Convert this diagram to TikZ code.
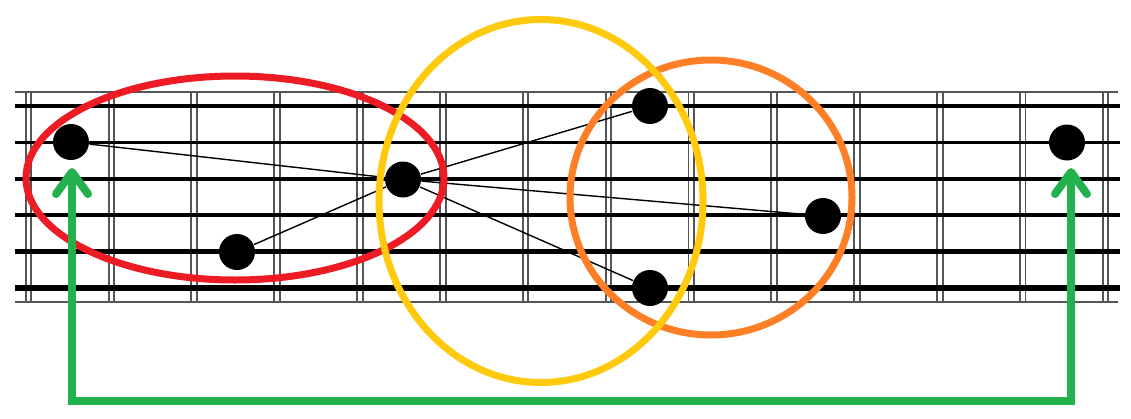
\documentclass[tikz,border=0pt]{standalone}
\usetikzlibrary{arrows.meta}
\definecolor{pred}{HTML}{ED1C24}
\definecolor{pyellow}{HTML}{FFC90E}
\definecolor{porange}{HTML}{FF7F27}
\definecolor{pgreen}{HTML}{22B14C}
\definecolor{fretgray}{HTML}{555555}

\begin{document}
\begin{tikzpicture}[
        fretline/.style={draw=fretgray,line width=0.55pt},
        dot/.style={circle,fill=black,minimum size=0.36cm,inner sep=0pt},
        ring/.style={line width=0.07cm},
        garrow/.style={pgreen,line width=0.08cm,
            {Straight Barb[round,length=2.2mm,width=3.2mm]}-{Straight Barb[round,length=2.2mm,width=3.2mm]}}
    ]
            \useasboundingbox (0,0) rectangle (11.31,4.18);

            % frets
            \draw[fretline] (0.257,3.257)--(0.257,1.163) (0.313,3.257)--(0.313,1.163);
            \draw[fretline] (1.086,3.257)--(1.086,1.163) (1.142,3.257)--(1.142,1.163);
            \draw[fretline] (1.914,3.257)--(1.914,1.163) (1.970,3.257)--(1.970,1.163);
            \draw[fretline] (2.743,3.257)--(2.743,1.163) (2.799,3.257)--(2.799,1.163);
            \draw[fretline] (3.571,3.257)--(3.571,1.163) (3.627,3.257)--(3.627,1.163);
            \draw[fretline] (4.400,3.257)--(4.400,1.163) (4.456,3.257)--(4.456,1.163);
            \draw[fretline] (5.228,3.257)--(5.228,1.163) (5.284,3.257)--(5.284,1.163);
            \draw[fretline] (6.057,3.257)--(6.057,1.163) (6.113,3.257)--(6.113,1.163);
            \draw[fretline] (6.885,3.257)--(6.885,1.163) (6.941,3.257)--(6.941,1.163);
            \draw[fretline] (7.714,3.257)--(7.714,1.163) (7.770,3.257)--(7.770,1.163);
            \draw[fretline] (8.542,3.257)--(8.542,1.163) (8.598,3.257)--(8.598,1.163);
            \draw[fretline] (9.371,3.257)--(9.371,1.163) (9.427,3.257)--(9.427,1.163);
            \draw[fretline] (10.199,3.257)--(10.199,1.163) (10.255,3.257)--(10.255,1.163);
            \draw[fretline] (11.028,3.257)--(11.028,1.163) (11.084,3.257)--(11.084,1.163);
            \draw[fretline] (0.15,3.257)--(11.18,3.257);
            \draw[fretline] (0.15,1.163)--(11.18,1.163);

            % strings
            \draw[line width=1.0pt] (0.15,3.120)--(11.20,3.120);
            \draw[line width=1.0pt] (0.15,2.756)--(11.20,2.756);
            \draw[line width=1.1pt] (0.15,2.392)--(11.20,2.392);
            \draw[line width=1.25pt] (0.15,2.028)--(11.20,2.028);
            \draw[line width=1.25pt] (0.15,1.664)--(11.20,1.664);
            \draw[line width=1.5pt] (0.15,1.300)--(11.20,1.300);

            % notes
            \node[dot] (d1) at (0.71,2.76) {};
            \node[dot] (d2) at (2.37,1.66) {};
            \node[dot] (d3) at (4.03,2.385) {};
            \node[dot] (d4) at (6.50,3.12) {};
            \node[dot] (d5) at (8.23,2.02) {};
            \node[dot] (d6) at (6.50,1.30) {};
            \node[dot] (d7) at (10.67,2.755) {};
            \draw[line width=0.4pt] (d1)--(d3);
            \draw[line width=0.4pt] (d2)--(d3);
            \draw[line width=0.4pt] (d3)--(d4);
            \draw[line width=0.4pt] (d3)--(d5);
            \draw[line width=0.4pt] (d3)--(d6);

            % shapes
            \draw[ring,pred] (2.35,2.40) ellipse [x radius=2.09,y radius=1.02];
            \draw[ring,porange] (7.11,2.205) ellipse [x radius=1.41,y radius=1.375];
            \draw[ring,pyellow] (5.41,2.17) ellipse [x radius=1.62,y radius=1.815];

            % octave arrow
            \coordinate (gtl) at (0.72,2.50);
            \coordinate (gbl) at (0.72,0.17);
            \coordinate (gbr) at (10.71,0.17);
            \coordinate (gtr) at (10.71,2.50);
            \draw[garrow] (gtl)--(gbl)--(gbr)--(gtr);
        \end{tikzpicture}
\end{document}
